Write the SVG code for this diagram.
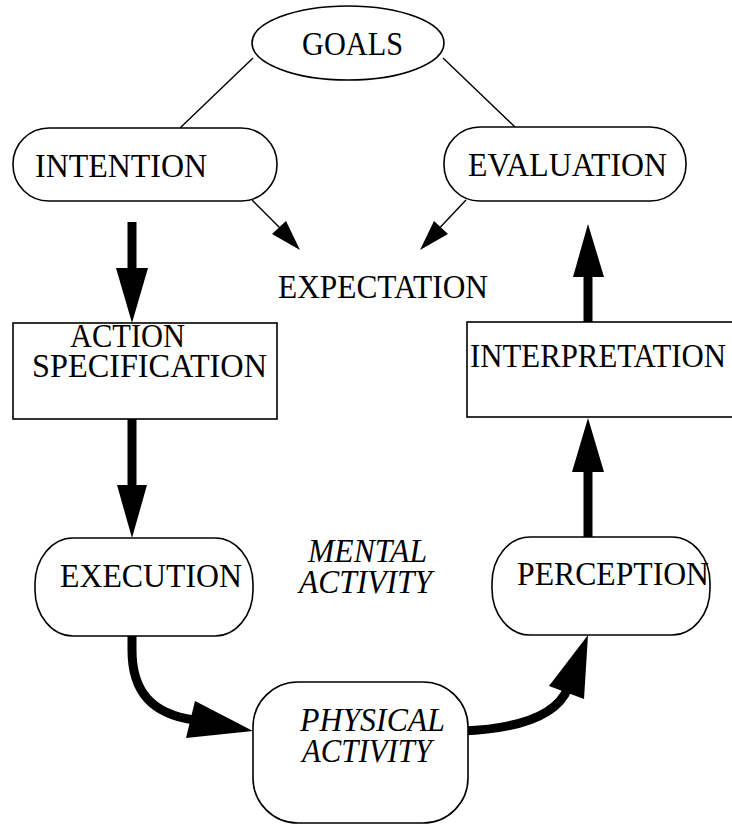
<svg xmlns="http://www.w3.org/2000/svg" width="732" height="827" viewBox="0 0 732 827">
<style>
.box{fill:#fff;stroke:#000;stroke-width:1.6}
.t{font-family:"Liberation Serif","Times New Roman",serif;font-size:33px;fill:#000}
.i{font-style:italic}
.thin{stroke:#000;stroke-width:1.4;fill:none}
.thick{stroke:#000;stroke-width:9;fill:none}
.head{fill:#000;stroke:none}
</style>
<rect width="732" height="827" fill="#fff"/>
<g id="connectors">
<line class="thin" x1="253" y1="58" x2="180" y2="128"/>
<line class="thin" x1="443" y1="58" x2="515" y2="127"/>
<line class="thin" x1="252" y1="200" x2="288" y2="236"/>
<polygon class="head" points="300,250 272,234 286,221"/>
<line class="thin" x1="466" y1="200" x2="432" y2="236"/>
<polygon class="head" points="420,250 434,221 448,234"/>
<line class="thick" x1="132" y1="222" x2="132" y2="270"/>
<polygon class="head" points="116,268 148,268 132,323"/>
<line class="thick" x1="132" y1="416" x2="132" y2="488"/>
<polygon class="head" points="117,485 147,485 132,538"/>
<line class="thick" x1="588" y1="322" x2="588" y2="274"/>
<polygon class="head" points="573,277 604,277 588,224"/>
<line class="thick" x1="588" y1="542" x2="588" y2="468"/>
<polygon class="head" points="572,472 604,472 588,418"/>
<path class="thick" d="M132,630 L132,650 C132,692 152,714 194,720" stroke-width="11"/>
<polygon class="head" points="253,731 195,701 186,738"/>
<path class="thick" d="M462,731 C512,729 556,718 568,688" stroke-width="11"/>
<polygon class="head" points="588,635 549,686 584,699"/>
</g>
<g id="goals">
<ellipse class="box" cx="348" cy="43" rx="96" ry="37"/>
<text class="t" x="302" y="55" textLength="101" lengthAdjust="spacingAndGlyphs">GOALS</text>
</g>
<g id="intention">
<rect class="box" x="13" y="128" width="264" height="73" rx="36" ry="36"/>
<text class="t" x="35" y="177" textLength="172" lengthAdjust="spacingAndGlyphs">INTENTION</text>
</g>
<g id="evaluation">
<rect class="box" x="444" y="127" width="242" height="74" rx="36" ry="36"/>
<text class="t" x="468" y="176" textLength="199" lengthAdjust="spacingAndGlyphs">EVALUATION</text>
</g>
<g id="expectation">
<text class="t" x="278" y="298" textLength="210" lengthAdjust="spacingAndGlyphs">EXPECTATION</text>
</g>
<g id="action-specification">
<rect class="box" x="13" y="323" width="264" height="96"/>
<text class="t" x="70" y="347" textLength="115" lengthAdjust="spacingAndGlyphs">ACTION</text>
<text class="t" x="32" y="377" textLength="235" lengthAdjust="spacingAndGlyphs">SPECIFICATION</text>
</g>
<g id="interpretation">
<rect class="box" x="467" y="322" width="275" height="95"/>
<text class="t" x="470" y="367" textLength="256" lengthAdjust="spacingAndGlyphs">INTERPRETATION</text>
</g>
<g id="execution">
<rect class="box" x="35" y="538" width="218" height="98" rx="38" ry="46"/>
<text class="t" x="60" y="587" textLength="182" lengthAdjust="spacingAndGlyphs">EXECUTION</text>
</g>
<g id="mental-activity">
<text class="t i" x="308" y="562" textLength="119" lengthAdjust="spacingAndGlyphs">MENTAL</text>
<text class="t i" x="299" y="593" textLength="133" lengthAdjust="spacingAndGlyphs">ACTIVITY</text>
</g>
<g id="perception">
<rect class="box" x="492" y="537" width="218" height="98" rx="38" ry="46"/>
<text class="t" x="517" y="585" textLength="192" lengthAdjust="spacingAndGlyphs">PERCEPTION</text>
</g>
<g id="physical-activity">
<rect class="box" x="253" y="682" width="215" height="141" rx="45" ry="45"/>
<text class="t i" x="300" y="731" textLength="145" lengthAdjust="spacingAndGlyphs">PHYSICAL</text>
<text class="t i" x="302" y="762" textLength="130" lengthAdjust="spacingAndGlyphs">ACTIVITY</text>
</g>
</svg>
